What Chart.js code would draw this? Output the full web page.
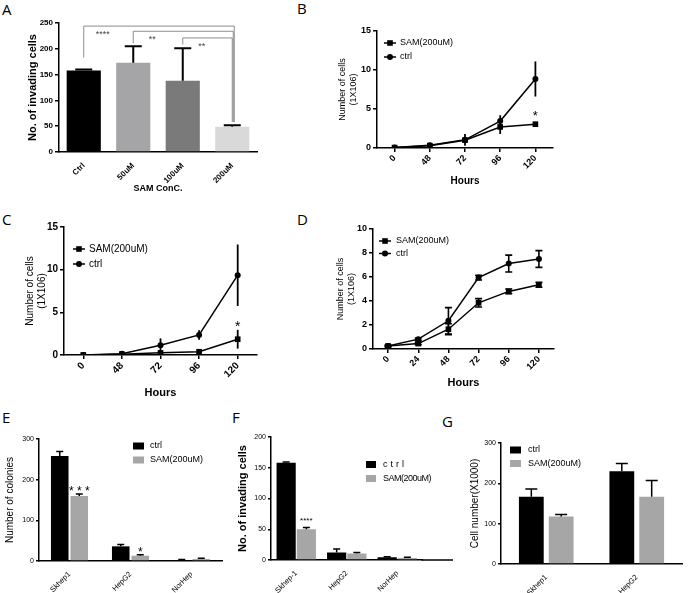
<!DOCTYPE html>
<html>
<head>
<meta charset="utf-8">
<title>SAM panels</title>
<script src="https://cdn.jsdelivr.net/npm/chart.js@4.4.1/dist/chart.umd.min.js"></script>
<style>
  html, body { margin: 0; padding: 0; background: #fff; }
  body { position: relative; width: 688px; height: 593px; overflow: hidden; }
  canvas { position: absolute; }
  .tag { position: absolute; font: 15px "Open Sans", "Liberation Sans", sans-serif; line-height: 15px; color: #000; }
</style>
</head>
<body>
<div class="tag" style="left:2px;top:2px">A</div>
<div class="tag" style="left:297px;top:1px">B</div>
<div class="tag" style="left:2px;top:212px">C</div>
<div class="tag" style="left:297px;top:212px">D</div>
<div class="tag" style="left:2px;top:410px">E</div>
<div class="tag" style="left:232px;top:410px">F</div>
<div class="tag" style="left:442px;top:414px">G</div>

<canvas id="chartA"></canvas>
<canvas id="chartB"></canvas>
<canvas id="chartC"></canvas>
<canvas id="chartD"></canvas>
<canvas id="chartE"></canvas>
<canvas id="chartF"></canvas>
<canvas id="chartG"></canvas>

<script>
// ---- values ----

// A: invading cells vs SAM dose
const doseLabels = ['Ctrl', '50uM', '100uM', '200uM'];
const doseInvading = [158, 173, 138, 49];
const doseInvadingErr = [2, 32, 63, 3];
const doseColors = ['#000000', '#a5a5a7', '#7a7a7a', '#d9d9d9'];
// [from bar, start, level, text] - every bracket ends on the 200uM bar
const doseSig = [[0, 183, 244, '****'], [1, 211, 234, '**'], [2, 208, 221, '**']];

// B: growth curve
const hoursB = ['0', '48', '72', '96', '120'];
const samB = [0.05, 0.3, 1.0, 2.7, 3.05];
const samBErr = [0.05, 0.1, 0.3, 0.9, 0.3];
const ctrlB = [0.05, 0.35, 1.05, 3.45, 8.85];
const ctrlBErr = [0.05, 0.1, 0.75, 0.75, 2.25];

// C: growth curve
const hoursC = ['0', '48', '72', '96', '120'];
const samC = [0.0, 0.1, 0.25, 0.38, 1.85];
const samCErr = [0.05, 0.05, 0.1, 0.15, 1.1];
const ctrlC = [0.0, 0.15, 1.15, 2.35, 9.35];
const ctrlCErr = [0.05, 0.1, 0.8, 0.55, 3.6];

// D: growth curve
const hoursD = ['0', '24', '48', '72', '96', '120'];
const samD = [0.25, 0.45, 1.65, 3.85, 4.8, 5.35];
const samDErr = [0.05, 0.1, 0.45, 0.35, 0.2, 0.2];
const ctrlD = [0.25, 0.82, 2.35, 5.95, 7.12, 7.5];
const ctrlDErr = [0.05, 0.1, 1.1, 0.2, 0.7, 0.7];

// E: colonies
const cellsE = ['Skhep1', 'HepG2', 'NorHep'];
const coloniesCtrl = [258, 36, 2.5];
const coloniesCtrlErr = [11, 4.5, 1];
const coloniesSam = [160, 13, 5];
const coloniesSamErr = [5, 2.5, 1.5];

// F: invading cells
const cellsF = ['Skhep-1', 'HepG2', 'NorHep'];
const invadingCtrl = [158, 12, 4.3];
const invadingCtrlErr = [1.5, 6, 1];
const invadingSam = [50, 10.5, 3.3];
const invadingSamErr = [3, 1.5, 1];

// G: cell number
const cellsG = ['Skhep1', 'HepG2'];
const countCtrl = [167, 230];
const countCtrlErr = [19, 19];
const countSam = [118, 167];
const countSamErr = [5, 40];

const FAMILY = '"Liberation Sans", Arial, sans-serif';
Chart.defaults.font.family = FAMILY;
Chart.defaults.color = '#000';
Chart.defaults.animation = false;

const font = (size, weight) => ({ size: size, weight: weight || 'normal', lineHeight: 1.2 });

// error bars (up only for bars, both ways for lines)
const errorBars = {
  id: 'errorBars',
  afterDatasetsDraw(chart, args, o) {
    const ctx = chart.ctx;
    const ys = chart.scales.y;
    chart.data.datasets.forEach((ds, i) => {
      if (!ds.errors) return;
      const meta = chart.getDatasetMeta(i);
      ctx.save();
      ctx.strokeStyle = '#000';
      ctx.lineWidth = o.width || 1.5;
      meta.data.forEach((el, j) => {
        const v = ds.data[j], e = ds.errors[j];
        const top = ys.getPixelForValue(v + e);
        const bot = o.both ? ys.getPixelForValue(Math.max(0, v - e)) : ys.getPixelForValue(v);
        ctx.beginPath();
        ctx.moveTo(el.x, bot);
        ctx.lineTo(el.x, top);
        if (o.cap) {
          ctx.moveTo(el.x - o.cap / 2, top);
          ctx.lineTo(el.x + o.cap / 2, top);
          if (o.both) {
            ctx.moveTo(el.x - o.cap / 2, bot);
            ctx.lineTo(el.x + o.cap / 2, bot);
          }
        }
        ctx.stroke();
      });
      ctx.restore();
    });
  }
};

function marker(ctx, style, x, y) {
  if (style === 'rect') {
    ctx.fillRect(x - 2.8, y - 2.8, 5.6, 5.6);
  } else {
    ctx.beginPath();
    ctx.arc(x, y, 3, 0, Math.PI * 2);
    ctx.fill();
  }
}

// small legend placed inside the plot
const keyPlugin = {
  id: 'key',
  afterDraw(chart, args, o) {
    if (!o || o.x === undefined) return;
    const ctx = chart.ctx;
    ctx.save();
    ctx.font = o.size + 'px ' + FAMILY;
    ctx.textBaseline = 'middle';
    ctx.textAlign = 'left';
    chart.data.datasets.forEach((ds, i) => {
      const y = o.y + i * o.gap;
      ctx.fillStyle = '#000';
      ctx.strokeStyle = '#000';
      if (chart.config.type === 'line') {
        ctx.lineWidth = 1.5;
        ctx.beginPath();
        ctx.moveTo(o.x - 6, y);
        ctx.lineTo(o.x + 6, y);
        ctx.stroke();
        marker(ctx, ds.pointStyle, o.x, y);
      } else {
        ctx.fillStyle = ds.backgroundColor;
        ctx.fillRect(o.x, y - o.bh / 2, o.bw, o.bh);
        ctx.fillStyle = '#000';
      }
      ctx.letterSpacing = (o.spacing && o.spacing[i]) || '0px';
      ctx.fillText(ds.label, o.tx, y);
    });
    ctx.restore();
  }
};

// significance marks, brackets and an extended x baseline
const notes = {
  id: 'notes',
  afterDraw(chart, args, o) {
    if (!o) return;
    const ctx = chart.ctx, ys = chart.scales.y, area = chart.chartArea;
    ctx.save();
    (o.brackets || []).forEach((b, k) => {
      const bars = chart.getDatasetMeta(0).data;
      const x0 = bars[b[0]].x;
      const x1 = bars[o.bracketTo].x + (o.brackets.length - 1 - k);
      const yl = ys.getPixelForValue(b[2]);
      ctx.strokeStyle = '#8c8c8c';
      ctx.lineWidth = 1;
      ctx.beginPath();
      ctx.moveTo(x0, ys.getPixelForValue(b[1]));
      ctx.lineTo(x0, yl);
      ctx.lineTo(x1, yl);
      ctx.lineTo(x1, ys.getPixelForValue(o.bracketEnd));
      ctx.stroke();
      ctx.fillStyle = '#444';
      ctx.font = o.bracketSize + 'px ' + FAMILY;
      ctx.textAlign = 'center';
      ctx.textBaseline = 'alphabetic';
      ctx.fillText(b[3], x0 + 19, yl + 6 + 0.57 * o.bracketSize);
    });
    (o.stars || []).forEach(s => {
      const el = chart.getDatasetMeta(s[0]).data[s[1]];
      const size = s[4] || 12;
      ctx.fillStyle = '#000';
      ctx.font = size + 'px ' + FAMILY;
      ctx.textAlign = 'center';
      ctx.textBaseline = 'alphabetic';
      ctx.fillText(s[3], el.x, ys.getPixelForValue(s[2]) + 0.57 * size);
    });
    if (o.extendX) {
      ctx.strokeStyle = '#000';
      ctx.lineWidth = 1.5;
      ctx.beginPath();
      ctx.moveTo(area.right - 1, area.bottom);
      ctx.lineTo(area.right + o.extendX, area.bottom);
      ctx.stroke();
    }
    ctx.restore();
  }
};

function yAxis(max, step, tickFont, title, titleFont, titlePad, tick) {
  return {
    min: 0,
    max: max,
    ticks: { stepSize: step, font: tickFont, padding: 2 },
    grid: { drawOnChartArea: false, tickLength: tick || 4, color: '#000', lineWidth: 1.5 },
    border: { color: '#000', width: 1.5 },
    title: { display: true, text: title, font: titleFont, padding: { top: titlePad, bottom: 0 } }
  };
}

function xCategory(tickFont, ticksOn, title, titleFont, titlePad) {
  const x = {
    offset: true,
    ticks: { font: tickFont, minRotation: 45, maxRotation: 45, autoSkip: false, padding: 1 },
    grid: ticksOn
      ? { drawOnChartArea: false, offset: false, tickLength: 4, color: '#000', lineWidth: 1.5 }
      : { display: false },
    border: { color: '#000', width: 1.5 }
  };
  if (title) {
    x.title = { display: true, text: title, font: titleFont, padding: { top: 0, bottom: titlePad } };
  }
  return x;
}

function place(id, box, cfg) {
  const cv = document.getElementById(id);
  cv.width = box.w;
  cv.height = box.h;
  cv.style.left = box.x + 'px';
  cv.style.top = box.y + 'px';
  cfg.options.responsive = false;
  cfg.options.layout = { padding: { top: box.pt, right: box.pr, left: 0, bottom: 0 } };
  cfg.options.scales.x.afterFit = s => { s.height = box.xH; };
  cfg.options.scales.y.afterFit = s => { s.width = box.yW; };
  cfg.options.plugins.legend = { display: false };
  cfg.options.plugins.tooltip = { enabled: false };
  cfg.plugins = [errorBars, keyPlugin, notes];
  return new Chart(cv, cfg);
}

function lineSet(label, data, errors, style) {
  return {
    label: label, data: data, errors: errors,
    borderColor: '#000', backgroundColor: '#000', borderWidth: 1.5,
    pointStyle: style, pointRadius: style === 'rect' ? 4 : 3,
    pointBorderWidth: 0, tension: 0
  };
}

function barSet(label, data, errors, color) {
  return { label: label, data: data, errors: errors, backgroundColor: color, borderWidth: 0 };
}

// ---- A ----
place('chartA', { x: 0, y: 10, w: 262, h: 190, pt: 13, pr: 5, yW: 59, xH: 48 }, {
  type: 'bar',
  data: {
    labels: doseLabels,
    datasets: [{ label: 'invading', data: doseInvading, errors: doseInvadingErr,
      backgroundColor: doseColors, borderWidth: 0, categoryPercentage: 1, barPercentage: 0.69 }]
  },
  options: {
    scales: {
      x: xCategory(font(8, 'bold'), false, 'SAM ConC.', font(9, 'bold'), 5.6),
      y: yAxis(250, 50, font(8, 'bold'), 'No. of invading cells', font(11, 'bold'), 26.4)
    },
    plugins: {
      errorBars: { cap: 17, width: 2 },
      notes: { brackets: doseSig, bracketTo: 3, bracketEnd: 58, bracketSize: 9 }
    }
  }
});

// ---- B ----
place('chartB', { x: 330, y: 20, w: 232, h: 175, pt: 11, pr: 9, yW: 47, xH: 47 }, {
  type: 'line',
  data: {
    labels: hoursB,
    datasets: [lineSet('SAM(200uM)', samB, samBErr, 'rect'), lineSet('ctrl', ctrlB, ctrlBErr, 'circle')]
  },
  options: {
    scales: {
      x: xCategory(font(9, 'bold'), true, 'Hours', font(10, 'bold'), 8),
      y: yAxis(15, 5, font(9, 'bold'), ['Number of cells', '(1X106)'], font(9), 7.6)
    },
    plugins: {
      errorBars: { both: true, cap: 0, width: 1.8 },
      key: { x: 60, y: 23, gap: 14, tx: 70, size: 9 },
      notes: { stars: [[0, 4, 4.5, '*', 13]] }
    }
  }
});

// ---- C ----
place('chartC', { x: 0, y: 215, w: 262, h: 185, pt: 12, pr: 5, yW: 64, xH: 45 }, {
  type: 'line',
  data: {
    labels: hoursC,
    datasets: [lineSet('SAM(200uM)', samC, samCErr, 'rect'), lineSet('ctrl', ctrlC, ctrlCErr, 'circle')]
  },
  options: {
    scales: {
      x: xCategory(font(10, 'bold'), true, 'Hours', font(11, 'bold'), 0.4),
      y: yAxis(15, 5, font(10, 'bold'), ['Number of cells', '(1X106)'], font(10), 24)
    },
    plugins: {
      errorBars: { both: true, cap: 0, width: 1.8 },
      key: { x: 79, y: 34, gap: 15, tx: 89, size: 10 },
      notes: { stars: [[0, 4, 3.7, '*', 14]] }
    }
  }
});

// ---- D ----
place('chartD', { x: 330, y: 215, w: 232, h: 180, pt: 14, pr: 8, yW: 43, xH: 46 }, {
  type: 'line',
  data: {
    labels: hoursD,
    datasets: [lineSet('SAM(200uM)', samD, samDErr, 'rect'), lineSet('ctrl', ctrlD, ctrlDErr, 'circle')]
  },
  options: {
    scales: {
      x: xCategory(font(9, 'bold'), true, 'Hours', font(11, 'bold'), 5.4),
      y: yAxis(10, 2, font(9, 'bold'), ['Number of cells', '(1X106)'], font(9), 5.6)
    },
    plugins: {
      errorBars: { both: true, cap: 7, width: 1.6 },
      key: { x: 55, y: 26, gap: 12.5, tx: 66, size: 9 }
    }
  }
});

// ---- E ----
place('chartE', { x: 0, y: 425, w: 228, h: 168, pt: 14, pr: 6, yW: 39, xH: 32 }, {
  type: 'bar',
  data: {
    labels: cellsE,
    datasets: [barSet('ctrl', coloniesCtrl, coloniesCtrlErr, '#000000'),
               barSet('SAM(200uM)', coloniesSam, coloniesSamErr, '#a6a6a6')]
  },
  options: {
    datasets: { bar: { categoryPercentage: 0.64, barPercentage: 0.9 } },
    scales: {
      x: xCategory(font(7.5), false),
      y: yAxis(300, 100, font(7), 'Number of colonies', font(10), 4, 3)
    },
    plugins: {
      errorBars: { cap: 7, width: 1.5 },
      key: { x: 133, y: 21, gap: 14, tx: 150, size: 9, bw: 11, bh: 7 },
      notes: { stars: [[1, 0, 180, '* * *', 12], [1, 1, 29, '*', 12]] }
    }
  }
});

// ---- F ----
place('chartF', { x: 230, y: 425, w: 230, h: 168, pt: 12, pr: 37.5, yW: 41, xH: 33 }, {
  type: 'bar',
  data: {
    labels: cellsF,
    datasets: [barSet('ctrl', invadingCtrl, invadingCtrlErr, '#000000'),
               barSet('SAM(200uM)', invadingSam, invadingSamErr, '#a6a6a6')]
  },
  options: {
    datasets: { bar: { categoryPercentage: 0.8, barPercentage: 0.95 } },
    scales: {
      x: xCategory(font(7.5), false),
      y: yAxis(200, 50, font(7), 'No. of invading cells', font(11, 'bold'), 6.4, 3)
    },
    plugins: {
      errorBars: { cap: 7, width: 1.5 },
      key: { x: 136, y: 39.5, gap: 14, tx: 153, size: 9, bw: 10, bh: 7, spacing: ['3px', '-0.5px'] },
      notes: { stars: [[1, 0, 67, '****', 8]], extendX: 30.5 }
    }
  }
});

// ---- G ----
place('chartG', { x: 460, y: 425, w: 228, h: 168, pt: 18, pr: 6, yW: 41, xH: 29 }, {
  type: 'bar',
  data: {
    labels: cellsG,
    datasets: [barSet('ctrl', countCtrl, countCtrlErr, '#000000'),
               barSet('SAM(200uM)', countSam, countSamErr, '#a6a6a6')]
  },
  options: {
    datasets: { bar: { categoryPercentage: 0.66, barPercentage: 0.83 } },
    scales: {
      x: xCategory(font(7.5), false),
      y: yAxis(300, 100, font(7), 'Cell number(X1000)', font(10), 9, 3)
    },
    plugins: {
      errorBars: { cap: 12, width: 1.5 },
      key: { x: 50, y: 25, gap: 13.5, tx: 68, size: 9, bw: 11, bh: 7 }
    }
  }
});
</script>
</body>
</html>
